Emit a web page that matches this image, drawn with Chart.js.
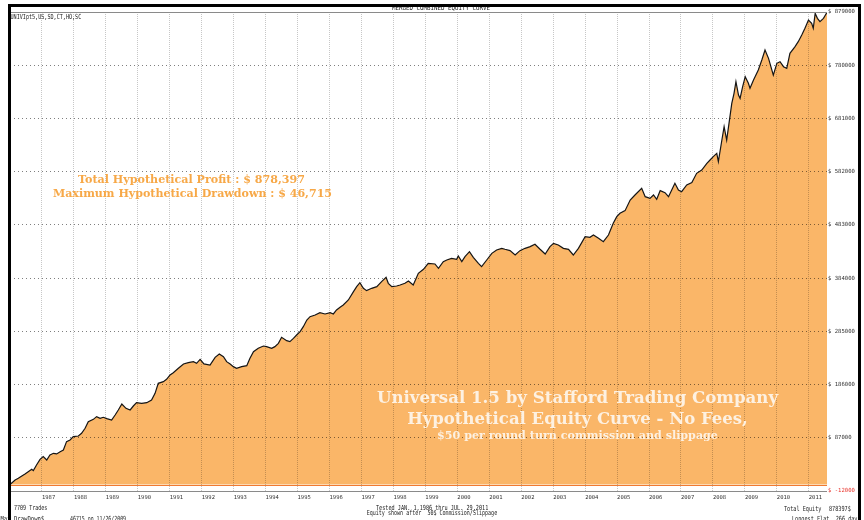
<!DOCTYPE html>
<html>
<head>
<meta charset="utf-8">
<title>Merged Combined Equity Curve</title>
<script src="https://cdn.jsdelivr.net/npm/chart.js@4.4.1/dist/chart.umd.min.js"></script>
<style>
  html, body { margin: 0; padding: 0; background: #fff; }
  #wrap { width: 864px; height: 520px; position: relative; }
</style>
</head>
<body>
<div id="wrap"><canvas id="equityChart"></canvas></div>
<script>
/* ---- data ---- */
const years = [
  1986.00, 1986.16, 1986.26, 1986.37, 1986.47, 1986.57, 1986.68, 1986.73, 1986.83, 1986.94,
  1987.04, 1987.15, 1987.25, 1987.36, 1987.46, 1987.57, 1987.67, 1987.77, 1987.88, 1987.98,
  1988.14, 1988.24, 1988.35, 1988.45, 1988.61, 1988.71, 1988.82, 1988.92, 1989.03, 1989.18,
  1989.29, 1989.39, 1989.50, 1989.63, 1989.76, 1989.86, 1989.96, 1990.12, 1990.28, 1990.43,
  1990.54, 1990.64, 1990.80, 1990.90, 1991.01, 1991.11, 1991.27, 1991.43, 1991.58, 1991.74,
  1991.84, 1991.95, 1992.07, 1992.26, 1992.42, 1992.55, 1992.68, 1992.78, 1992.89, 1992.99,
  1993.09, 1993.25, 1993.41, 1993.51, 1993.62, 1993.77, 1993.93, 1994.03, 1994.19, 1994.29,
  1994.40, 1994.50, 1994.66, 1994.76, 1994.87, 1994.97, 1995.08, 1995.18, 1995.29, 1995.39,
  1995.55, 1995.70, 1995.86, 1996.02, 1996.12, 1996.22, 1996.33, 1996.43, 1996.59, 1996.75,
  1996.85, 1996.95, 1997.06, 1997.16, 1997.32, 1997.48, 1997.63, 1997.77, 1997.84, 1997.95,
  1998.10, 1998.21, 1998.36, 1998.47, 1998.62, 1998.78, 1998.94, 1999.09,
  1999.30, 1999.41, 1999.56, 1999.67, 1999.82, 1999.98, 2000.03, 2000.14, 2000.24, 2000.38,
  2000.50, 2000.66, 2000.76, 2000.92, 2001.08, 2001.23, 2001.39, 2001.49, 2001.65, 2001.81,
  2001.96, 2002.12, 2002.28, 2002.43, 2002.59, 2002.75, 2002.90, 2003.01, 2003.16, 2003.32,
  2003.48, 2003.63, 2003.79, 2004.00, 2004.15, 2004.26, 2004.42, 2004.57, 2004.73, 2004.88,
  2004.99, 2005.09, 2005.25, 2005.41, 2005.56, 2005.77, 2005.88, 2006.03, 2006.14, 2006.24,
  2006.35, 2006.50, 2006.61, 2006.71, 2006.81, 2006.92, 2007.02, 2007.18, 2007.34, 2007.49,
  2007.65, 2007.81, 2007.91, 2008.01, 2008.12, 2008.17, 2008.28, 2008.35, 2008.43, 2008.59,
  2008.66, 2008.72, 2008.80, 2008.85, 2008.93, 2009.01, 2009.11, 2009.16, 2009.27, 2009.42,
  2009.53, 2009.63, 2009.74, 2009.89, 2010.00, 2010.10, 2010.21, 2010.31, 2010.41, 2010.57,
  2010.67, 2010.78, 2010.88, 2010.99, 2011.09, 2011.14, 2011.20, 2011.27, 2011.35, 2011.46,
  2011.57
];
const equity = [
  0, 8500, 11600, 15900, 19700, 24000, 28300, 25900, 36400, 46900,
  51900, 45700, 55000, 58100, 56900, 61200, 64300, 79800, 82900, 89100,
  90300, 95300, 104600, 117000, 121300, 126300, 123200, 125100, 122600, 120100,
  129400, 138700, 149900, 141800, 138700, 146100, 152300, 151100, 152300, 157300,
  169700, 188300, 191400, 195700, 203800, 208100, 216200, 224300, 226700, 228600,
  225500, 232900, 224300, 222400, 236700, 242900, 237900, 228600, 224300, 219300,
  216200, 219300, 221200, 234800, 247200, 253400, 257700, 256500, 253400, 256500,
  262700, 273900, 267700, 265800, 272000, 278200, 284400, 293700, 306100, 312300,
  315400, 319700, 317300, 319700, 317300, 324700, 329700, 334000, 343300, 358800,
  368100, 375500, 365000, 360700, 365000, 368100, 377400, 385500, 374300, 368100,
  369300, 371200, 374300, 378600, 371200, 392900, 400300, 411500,
  410300, 402200, 414600, 417700, 420800, 419000, 425200, 414600, 423900, 433200,
  422700, 411500, 405300, 417700, 430100, 436300, 439400, 437600, 435100, 427000,
  435100, 439400, 442500, 446900, 437600, 428900, 442500, 448700, 445600, 439400,
  437600, 427000, 439400, 461100, 459900, 464200, 458000, 451800, 464200, 485900,
  498300, 504500, 509500, 529300, 538600, 551000, 535500, 532400, 538600, 530600,
  546700, 543000, 535500, 547900, 560300, 547900, 544800, 557200, 561600, 578900,
  585100, 597500, 603700, 609900, 616100, 600600, 640900, 665700, 640900, 709100,
  727700, 749400, 724600, 718400, 740100, 758700, 746300, 737000, 752500, 771100,
  789700, 808300, 792800, 761600, 783500, 786600, 777300, 774200, 802100, 814500,
  823800, 836200, 848600, 864100, 857900, 848600, 876500, 867200, 861000, 867200,
  878397
];
const yearTicks = [1987, 1988, 1989, 1990, 1991, 1992, 1993, 1994, 1995, 1996, 1997, 1998,
  1999, 2000, 2001, 2002, 2003, 2004, 2005, 2006, 2007, 2008, 2009, 2010, 2011];
const equityTicks = [-12000, 87000, 186000, 285000, 384000, 483000, 582000, 681000, 780000, 879000];

const startYear = 1986.0;
const endYear   = 2011.57;   // JUL. 29, 2011

/* ---- helpers for the small terminal-style text ---- */
function tiny(ctx, text, x, y, sx, color) {
  ctx.save();
  ctx.font = '7px "DejaVu Sans Mono"';
  ctx.translate(x, y);
  ctx.scale(sx || 0.74, 1);
  ctx.textAlign = 'left';
  ctx.textBaseline = 'middle';
  ctx.fillStyle = color || '#222';
  ctx.fillText(text, 0, 0);
  ctx.restore();
}

function fitText(ctx, text, cx, baseY, width, color) {
  const fam = '"DejaVu Serif", serif';
  ctx.font = 'bold 20px ' + fam;
  const size = 20 * width / ctx.measureText(text).width;
  ctx.font = 'bold ' + size.toFixed(2) + 'px ' + fam;
  ctx.fillStyle = color;
  ctx.textAlign = 'center';
  ctx.textBaseline = 'alphabetic';
  ctx.fillText(text, cx, baseY);
}

/* ---- zero line + annotations + frame ---- */
const decorPlugin = {
  id: 'decor',
  afterDatasetsDraw(chart) {
    const { ctx, chartArea: a, scales } = chart;
    const y0 = Math.round(scales.y.getPixelForValue(0)) + 0.5;
    ctx.save();
    ctx.strokeStyle = '#f07a32';
    ctx.lineWidth = 1.2;
    ctx.beginPath();
    ctx.moveTo(a.left, y0);
    ctx.lineTo(a.right, y0);
    ctx.stroke();
    ctx.restore();
  },
  afterDraw(chart) {
    const { ctx, chartArea: a } = chart;
    ctx.save();

    // top and bottom gray lines of plot
    ctx.strokeStyle = '#8a8a8a';
    ctx.lineWidth = 1;
    ctx.beginPath();
    ctx.moveTo(a.left, a.top + 0.5);
    ctx.lineTo(a.right, a.top + 0.5);
    ctx.moveTo(a.left, a.bottom + 0.5);
    ctx.lineTo(a.right, a.bottom + 0.5);
    ctx.stroke();

    // annotations
    fitText(ctx, 'Total Hypothetical Profit : $ 878,397', 191.5, 182.5, 227, '#f7a847');
    fitText(ctx, 'Maximum Hypothetical Drawdown : $ 46,715', 192.5, 197.3, 279, '#f7a847');
    fitText(ctx, 'Universal 1.5 by Stafford Trading Company', 577.5, 403, 401, '#fdf1e2');
    fitText(ctx, 'Hypothetical Equity Curve - No Fees,', 577.5, 424, 341, '#fdf1e2');
    fitText(ctx, '$50 per round turn commission and slippage', 577.5, 439, 281, '#fdf1e2');

    // terminal texts
    tiny(ctx, 'MERGED COMBINED EQUITY CURVE', 392, 8.5, 0.83);
    tiny(ctx, 'UNIVIpt5,US,SD,CT,HO,SC', 10.5, 17.5, 0.73);
    tiny(ctx, '7709 Trades', 14, 507.7, 0.72);
    tiny(ctx, 'Max DrawDown$', 0.5, 518.8, 0.8);
    tiny(ctx, '46715 on 11/26/2009', 70, 518.8, 0.7);
    tiny(ctx, 'Tested JAN. 1,1986 thru JUL. 29,2011', 376, 507.7, 0.74);
    tiny(ctx, 'Equity shown after  50$ Commission/Slippage', 366.7, 513.5, 0.72);
    tiny(ctx, 'Total Equity', 784, 509, 0.74);
    tiny(ctx, '878397$', 829, 509, 0.74);
    tiny(ctx, 'Longest Flat  266 days', 792, 519, 0.74);

    // black frame
    ctx.fillStyle = '#000';
    ctx.fillRect(8, 4, 853, 3);
    ctx.fillRect(8, 4, 3, 516);
    ctx.fillRect(858, 4, 3, 516);
    ctx.restore();
  }
};

const points = years.map((x, i) => ({ x: x, y: equity[i] }));

new Chart(document.getElementById('equityChart'), {
  type: 'line',
  data: {
    datasets: [{
      data: points,
      borderColor: '#151515',
      borderWidth: 1.2,
      backgroundColor: 'rgb(250,182,104)',
      fill: 'origin',
      pointRadius: 0,
      tension: 0
    }]
  },
  options: {
    responsive: true,
    maintainAspectRatio: false,
    animation: false,
    layout: { padding: { left: 10, top: 12, right: 0, bottom: 0 } },
    plugins: { legend: { display: false }, tooltip: { enabled: false } },
    scales: {
      x: {
        type: 'linear',
        min: startYear,
        max: endYear,
        afterBuildTicks: s => { s.ticks = yearTicks.map(v => ({ value: v })); },
        afterFit: s => { s.height = 29; },
        grid: {
          z: 1,
          color: 'rgba(0,0,0,0.22)',
          lineWidth: 1,
          drawTicks: false
        },
        border: { display: false, dash: [1, 1] },
        ticks: {
          autoSkip: false,
          maxRotation: 0,
          align: 'start',
          padding: 3,
          color: '#333',
          font: { family: '"DejaVu Sans Mono"', size: 5.5 },
          callback: v => String(v)
        }
      },
      y: {
        position: 'right',
        min: -12000,
        max: 879000,
        afterBuildTicks: s => { s.ticks = equityTicks.map(v => ({ value: v })); },
        afterFit: s => { s.width = 37; },
        grid: {
          z: 1,
          color: 'rgba(0,0,0,0.5)',
          lineWidth: 1,
          drawTicks: false
        },
        border: { display: false, dash: [1, 3] },
        ticks: {
          padding: 1,
          color: c => (c.tick && c.tick.value < 0 ? '#e8322a' : '#333'),
          font: { family: '"DejaVu Sans Mono"', size: 5.6 },
          callback: v => '$ ' + v
        }
      }
    }
  },
  plugins: [decorPlugin]
});
</script>
</body>
</html>
